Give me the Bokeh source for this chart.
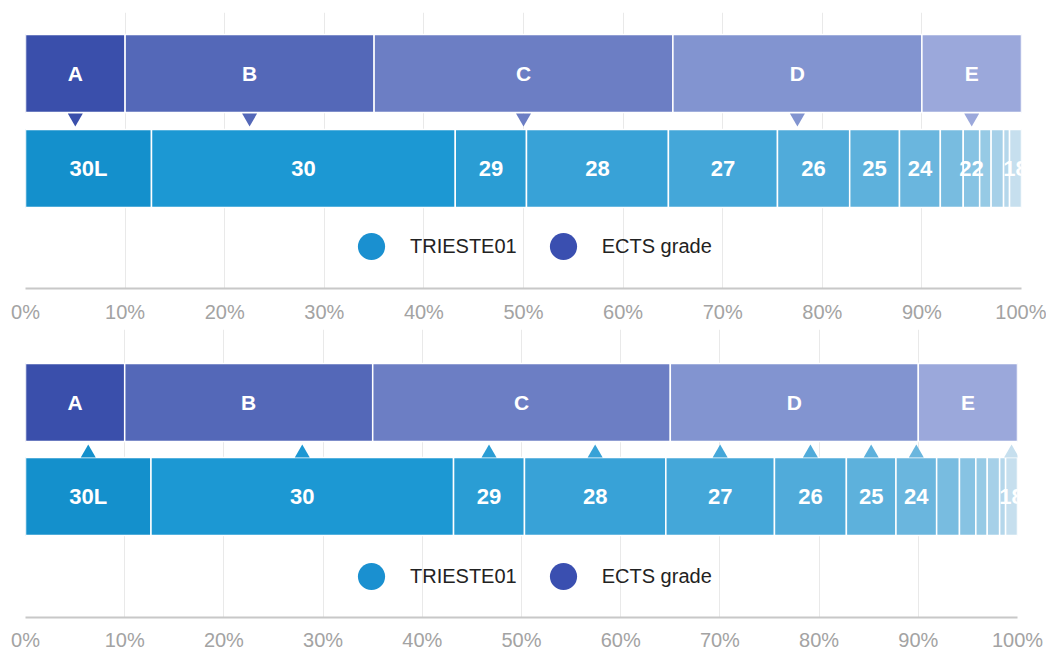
import numpy as np
from bokeh.plotting import figure
from bokeh.layouts import column
from bokeh.models import (Range1d, FixedTicker, PrintfTickFormatter, Legend,
                          LegendItem, ColumnDataSource)
from bokeh.core.properties import value
from bokeh.embed import file_html
from bokeh.resources import INLINE

# ---------------- data ----------------
ects_grades = ["A", "B", "C", "D", "E"]
ects_pct = [10, 25, 30, 25, 10]
ects_colors = ["#3a4fab", "#5468b8", "#6c7ec4", "#8294d0", "#9ba8db"]

trieste_grades = ["30L", "30", "29", "28", "27", "26", "25", "24",
                  "23", "22", "21", "20", "19", "18"]
trieste_pct = [12.65, 30.5, 7.15, 14.25, 10.95, 7.25, 5.0, 4.1,
               2.3, 1.65, 1.15, 1.25, 0.6, 1.2]
trieste_colors = ["#1490cc", "#1c98d3", "#2a9dd4", "#38a2d7", "#44a7d9",
                  "#50abda", "#5db1dc", "#6ab6de", "#78bce0", "#87c3e3",
                  "#96cae5", "#a6d0e8", "#b5d7eb", "#c6dfee"]

top_labels = ["30L", "30", "29", "28", "27", "26", "25", "24", "22", "18"]
bottom_labels = ["30L", "30", "29", "28", "27", "26", "25", "24", "18"]

tick_values = [0, 10, 20, 30, 40, 50, 60, 70, 80, 90, 100]
legend_labels = ["TRIESTE01", "ECTS grade"]
legend_colors = ["#1a90d0", "#3a4fb0"]

FONT = "Liberation Sans"
LEFT = 25


def segments(pcts):
    right = np.cumsum(pcts)
    left = right - np.array(pcts)
    return left, right, (left + right) / 2


def make_panel(frame_w, frame_h, right_border, top_border, ects_y, tri_y,
               markers_on_ects, shown_labels, legend_center, standoff):
    p = figure(frame_width=frame_w, frame_height=frame_h,
               x_range=Range1d(0, 100), y_range=Range1d(frame_h, 0),
               toolbar_location=None, output_backend="svg",
               y_axis_location=None, min_border_left=LEFT,
               min_border_right=right_border, min_border_top=top_border,
               min_border_bottom=0, outline_line_color=None)
    p.background_fill_color = "white"
    p.ygrid.visible = False
    p.xgrid.ticker = FixedTicker(ticks=tick_values)
    p.xgrid.grid_line_color = "#e9e9e9"
    p.xgrid.grid_line_width = 1

    ax = p.xaxis[0]
    ax.ticker = FixedTicker(ticks=tick_values)
    ax.formatter = PrintfTickFormatter(format="%d%%")
    ax.axis_line_color = "#c8c8c8"
    ax.axis_line_width = 2
    ax.major_tick_line_color = None
    ax.minor_tick_line_color = None
    ax.major_tick_out = 0
    ax.major_tick_in = 0
    ax.minor_tick_out = 0
    ax.major_label_standoff = standoff
    ax.major_label_text_font = FONT
    ax.major_label_text_font_size = "20px"
    ax.major_label_text_color = "#a3a3a3"

    bar_h = 78
    # ECTS bar
    el, er, ec = segments(ects_pct)
    src_e = ColumnDataSource(dict(left=el, right=er, c=ec, color=ects_colors,
                                  lab=ects_grades,
                                  y=[ects_y] * len(ects_pct)))
    p.hbar(y="y", left="left", right="right", height=bar_h, fill_color="color",
           line_color="white", line_width=1.5, source=src_e)
    p.text(x="c", y="y", text="lab", source=src_e, text_color="white",
           text_font=value(FONT), text_font_style="bold",
           text_font_size="21px", text_align="center", text_baseline="middle")

    # TRIESTE bar
    tl, tr, tc = segments(trieste_pct)
    src_t = ColumnDataSource(dict(left=tl, right=tr, c=tc, color=trieste_colors,
                                  y=[tri_y] * len(trieste_pct)))
    p.hbar(y="y", left="left", right="right", height=bar_h, fill_color="color",
           line_color="white", line_width=1.5, source=src_t)
    idx = [trieste_grades.index(g) for g in shown_labels]
    src_tl = ColumnDataSource(dict(c=tc[idx], lab=shown_labels,
                                   y=[tri_y] * len(idx),
                                   color=[trieste_colors[i] for i in idx]))
    p.text(x="c", y="y", text="lab", source=src_tl, text_color="white",
           text_font=value(FONT), text_font_style="bold",
           text_font_size="22px", text_align="center", text_baseline="middle")

    # triangle markers
    if markers_on_ects:
        ty = ects_y + bar_h / 2 + 1 + 13 / 3
        p.scatter(x=ec, y=[ty] * len(ec), marker="inverted_triangle", size=15,
                  fill_color=ects_colors, line_color=None)
    else:
        ty = tri_y - bar_h / 2 - 13 / 3
        src_m = ColumnDataSource(dict(c=tc[idx], y=[ty] * len(idx),
                                      color=[trieste_colors[i] for i in idx]))
        p.scatter(x="c", y="y", source=src_m, marker="triangle", size=15,
                  fill_color="color", line_color=None)

    # legend
    items = []
    for lab, col in zip(legend_labels, legend_colors):
        r = p.scatter(x=[-100], y=[0], marker="circle", size=27,
                      fill_color=col, line_color=None)
        items.append(LegendItem(label=lab, renderers=[r]))
    leg = Legend(items=items, orientation="horizontal",
                 location=(371 - LEFT - 34, frame_h - (legend_center + 34)),
                 glyph_width=68, glyph_height=68, label_standoff=5,
                 spacing=12, padding=0, margin=0, border_line_color=None,
                 background_fill_alpha=0, label_text_font=FONT,
                 label_text_font_size="20px", label_text_color="#222222")
    p.add_layout(leg)
    return p


p1 = make_panel(996, 276, 25, 12, ects_y=61, tri_y=156,
                markers_on_ects=True, shown_labels=top_labels,
                legend_center=234, standoff=12)
p2 = make_panel(992, 288, 29, 4, ects_y=73, tri_y=167,
                markers_on_ects=False, shown_labels=bottom_labels,
                legend_center=247, standoff=11)

p = column(p1, p2)
open("out.html", "w").write(file_html(p, INLINE))
